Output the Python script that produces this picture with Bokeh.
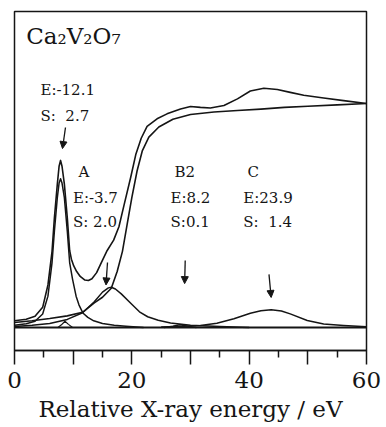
from bokeh.plotting import figure
from bokeh.models import ColumnDataSource, FixedTicker, Arrow, NormalHead, Range1d
from bokeh.core.properties import value
from bokeh.embed import file_html
from bokeh.resources import INLINE

# ---- data ----
total_e = [0, 2, 3.5, 4.8, 5.7, 6.4, 6.8, 7.3, 7.6, 7.85, 8.1, 8.5, 9.0, 9.4, 9.7, 10.1,
           10.6, 11.2, 12.0, 12.6, 13.2, 14.0, 14.8, 15.8, 16.9, 17.8, 18.7, 19.8, 20.7,
           21.6, 22.6, 24.3, 26.0, 28.3, 30.0, 31.7, 33.4, 35.7, 38.0, 40.2, 42.5, 44.8,
           47.0, 49.3, 52.7, 56.1, 60]
total_y = [0.03, 0.037, 0.05, 0.09, 0.19, 0.34, 0.49, 0.64, 0.72, 0.746, 0.72, 0.64, 0.49,
           0.344, 0.305, 0.275, 0.25, 0.228, 0.212, 0.21, 0.218, 0.245, 0.29, 0.344, 0.39,
           0.45, 0.55, 0.67, 0.775, 0.845, 0.898, 0.932, 0.954, 0.976, 0.987, 0.983, 0.98,
           0.991, 1.021, 1.056, 1.068, 1.063, 1.05, 1.037, 1.025, 1.013, 1.0]

step_e = [0, 3, 6, 9, 11.6, 13.6, 15.0, 16.5, 17.5, 18.4, 19.2, 20.0, 20.9, 21.8, 22.9,
          24.6, 27.0, 30.0, 34.0, 38.0, 42.0, 46.0, 50.0, 55.0, 60.0]
step_y = [0.022, 0.03, 0.04, 0.052, 0.068, 0.11, 0.135, 0.175, 0.25, 0.34, 0.46, 0.58,
          0.70, 0.79, 0.85, 0.895, 0.93, 0.951, 0.962, 0.969, 0.975, 0.983, 0.988, 0.994, 1.0]

pre_e = [0, 2, 3.5, 4.8, 5.7, 6.4, 6.8, 7.3, 7.6, 7.85, 8.1, 8.5, 9.0, 9.4, 9.9, 10.5,
         11.0, 11.65, 12.5, 13.5, 15.0, 17.0, 19.0, 22.0]
pre_y = [0.01, 0.017, 0.028, 0.06, 0.14, 0.29, 0.43, 0.58, 0.645, 0.664, 0.645, 0.58,
         0.43, 0.29, 0.215, 0.14, 0.1, 0.065, 0.045, 0.03, 0.018, 0.01, 0.006, 0.0]

a_e = [0, 3, 6, 9, 11.6, 13.6, 15.0, 16.0, 16.5, 17.2, 18.2, 19.9, 21.3, 22.7, 24.5,
       26.6, 30, 35, 40]
a_y = [0.004, 0.01, 0.018, 0.036, 0.066, 0.115, 0.158, 0.177, 0.18, 0.172, 0.15, 0.106,
       0.07, 0.048, 0.032, 0.02, 0.01, 0.004, 0.0]

b1_e = [7.4, 8.0, 8.6, 9.2, 9.9]
b1_y = [0.0, 0.012, 0.028, 0.014, 0.0]

b2_e = [25.5, 27.0, 28.2, 29.5, 31.0]
b2_y = [0.0, 0.006, 0.012, 0.006, 0.0]

c_e = [25, 28, 31.7, 34.5, 37.4, 40.2, 42, 43.75, 45.5, 47, 49.9, 52.7, 56.1, 60]
c_y = [0.002, 0.005, 0.009, 0.019, 0.039, 0.064, 0.075, 0.079, 0.074, 0.061, 0.031,
       0.016, 0.009, 0.003]

base_e = [0, 60]
base_y = [0, 0]

# annotations
label_x = [4.43, 4.43, 10.9, 9.97, 9.97, 27.27, 26.6, 26.6, 39.7, 39.0, 39.0]
label_y = [1.0625, 0.946, 0.696, 0.578, 0.469, 0.696, 0.578, 0.469, 0.696, 0.578, 0.469]
label_text = ["E:-12.1", "S: \u00a02.7", "A", "E:-3.7", "S: 2.0", "B2", "E:8.2", "S:0.1",
              "C", "E:23.9", "S: \u00a01.4"]

title_x = [2.0]
title_y = [1.30]
title_text = ["Ca\u2082V\u2082O\u2087"]

arrow_x0 = [8.69, 15.85, 29.1, 43.38]
arrow_y0 = [0.893, 0.29, 0.299, 0.237]
arrow_x1 = [8.18, 15.6, 29.0, 43.75]
arrow_y1 = [0.799, 0.19, 0.196, 0.134]

tick_values = [0, 10, 20, 30, 40, 50, 60]
tick_text = ["0", "", "20", "", "40", "", "60"]
minor_values = [5, 15, 25, 35, 45, 55]

# ---- figure ----
INK = "#151515"
SERIF = "DejaVu Serif"

p = figure(frame_width=352, frame_height=339,
           x_range=Range1d(0, 60), y_range=Range1d(-0.1027, 1.411),
           output_backend="svg", toolbar_location=None,
           y_axis_location=None,
           min_border_left=14, min_border_right=18, min_border_top=11, min_border_bottom=0)
p.grid.visible = False
p.outline_line_color = INK
p.outline_line_width = 1.5
p.background_fill_color = "white"
p.border_fill_color = "white"

for xs, ys, w in [(base_e, base_y, 2.2), (step_e, step_y, 1.6), (total_e, total_y, 1.6),
                  (pre_e, pre_y, 1.5), (a_e, a_y, 1.5), (b1_e, b1_y, 1.2),
                  (b2_e, b2_y, 1.4), (c_e, c_y, 1.5)]:
    p.line(xs, ys, line_color=INK, line_width=w, line_join="round")

p.text(x=label_x, y=label_y, text=label_text, text_font=value(SERIF),
       text_font_size="15px", text_align="left", text_baseline="middle", text_color=INK)
p.text(x=title_x, y=title_y, text=title_text, text_font=value(SERIF),
       text_font_size="23px", text_align="left", text_baseline="middle", text_color=INK)

asrc = ColumnDataSource(dict(x0=arrow_x0, y0=arrow_y0, x1=arrow_x1, y1=arrow_y1))
p.add_layout(Arrow(end=NormalHead(size=7, fill_color=INK, line_color=INK, line_width=1),
                   x_start="x0", y_start="y0", x_end="x1", y_end="y1", source=asrc,
                   line_color=INK, line_width=1.3))

ax = p.xaxis[0]
ax.ticker = FixedTicker(ticks=tick_values, minor_ticks=minor_values)
ax.major_label_overrides = {v: t for v, t in zip(tick_values, tick_text)}
ax.axis_line_color = INK
ax.axis_line_width = 1.5
ax.major_tick_line_color = INK
ax.minor_tick_line_color = INK
ax.major_tick_line_width = 1.5
ax.minor_tick_line_width = 1.5
ax.major_tick_out = 14
ax.major_tick_in = 0
ax.minor_tick_out = 7
ax.minor_tick_in = 0
ax.major_label_text_font = SERIF
ax.major_label_text_font_size = "23px"
ax.major_label_text_color = INK
ax.major_label_standoff = 7
ax.axis_label = "Relative X-ray energy / eV"
ax.axis_label_text_font = SERIF
ax.axis_label_text_font_size = "23px"
ax.axis_label_text_font_style = "normal"
ax.axis_label_text_color = INK
ax.axis_label_standoff = 5

open("out.html", "w").write(file_html(p, INLINE))
